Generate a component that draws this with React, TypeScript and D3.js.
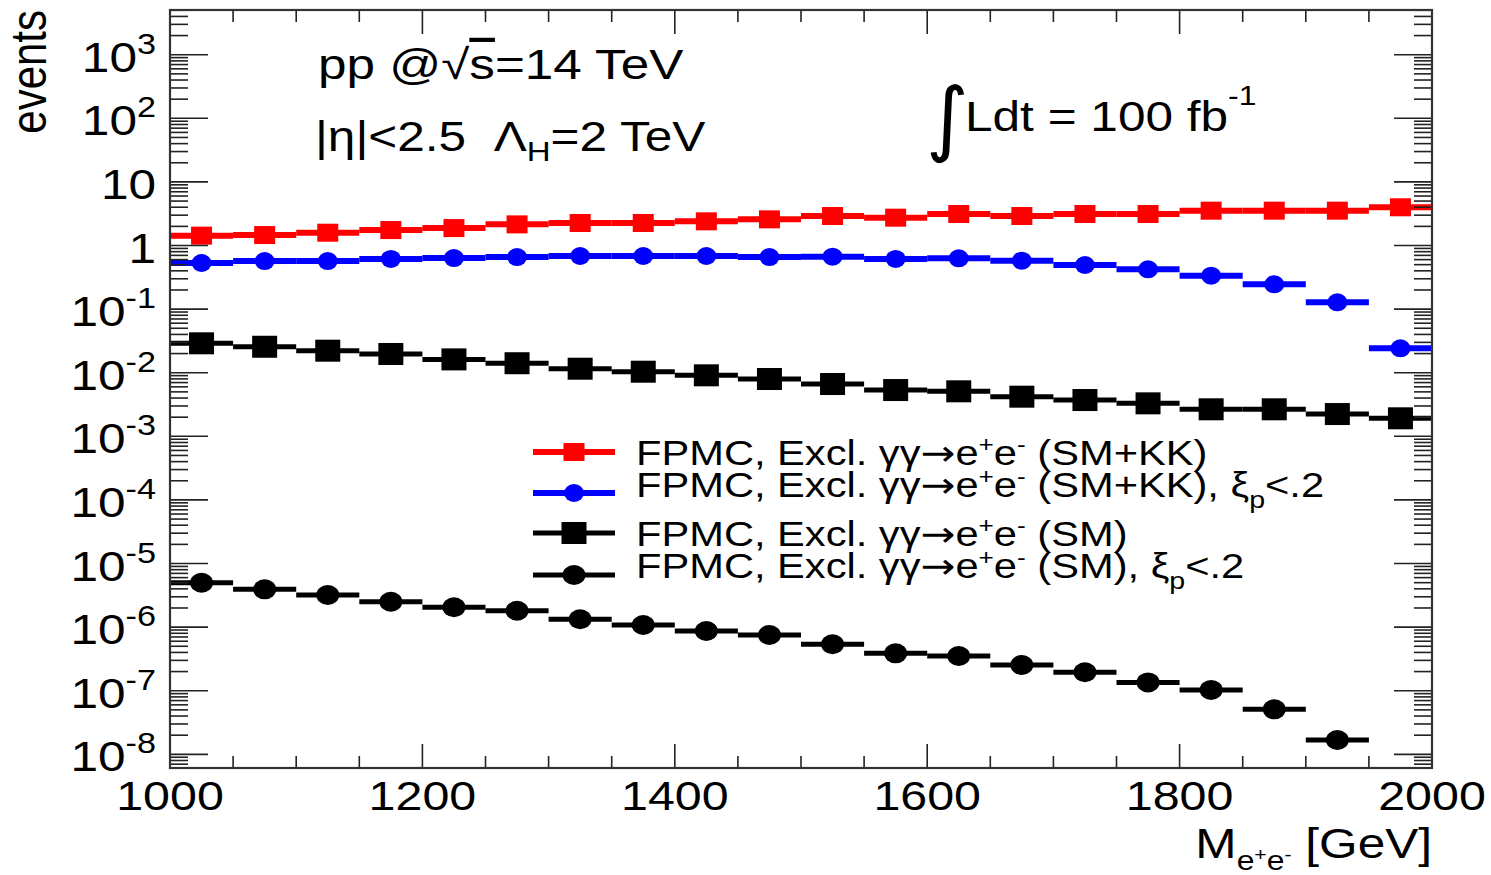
import React from 'react';
import * as d3 from 'd3';

// Bin centres of the invariant-mass histogram (GeV)
const massBins = [1025, 1075, 1125, 1175, 1225, 1275, 1325, 1375, 1425, 1475, 1525, 1575, 1625, 1675, 1725, 1775, 1825, 1875, 1925, 1975];
const binHalfWidth = 25;

// FPMC, Excl. γγ→e+e- (SM+KK)
const smKK = [1.43, 1.46, 1.59, 1.75, 1.88, 2.15, 2.26, 2.26, 2.40, 2.58, 2.91, 2.74, 3.13, 2.91, 3.13, 3.13, 3.53, 3.53, 3.53, 3.99];
// FPMC, Excl. γγ→e+e- (SM+KK), ξp<.2
const smKKXi = [0.531, 0.570, 0.570, 0.614, 0.636, 0.659, 0.684, 0.684, 0.684, 0.659, 0.667, 0.614, 0.629, 0.577, 0.494, 0.422, 0.335, 0.245, 0.128, 0.0242];
// FPMC, Excl. γγ→e+e- (SM)
const sm = [0.0290, 0.0256, 0.0222, 0.0197, 0.0162, 0.0141, 0.01156, 0.01037, 0.00910, 0.00796, 0.00664, 0.00534, 0.00510, 0.00420, 0.00372, 0.00330, 0.00266, 0.00266, 0.00224, 0.00192];
// FPMC, Excl. γγ→e+e- (SM), ξp<.2
const smXi = [4.99e-6, 3.93e-6, 3.20e-6, 2.51e-6, 2.05e-6, 1.81e-6, 1.33e-6, 1.08e-6, 8.69e-7, 7.52e-7, 5.37e-7, 3.87e-7, 3.51e-7, 2.54e-7, 1.95e-7, 1.35e-7, 1.03e-7, 5.10e-8, 1.68e-8, null];

const xTicks = [1000, 1200, 1400, 1600, 1800, 2000];
const xMinorStep = 50;
const yExponents = [-8, -7, -6, -5, -4, -3, -2, -1, 0, 1, 2, 3];

const FONT = '"Liberation Sans", Arial, Helvetica, sans-serif';
const SX = 1.18;

type Series = { values: (number | null)[]; color: string; marker: 'square' | 'circle'; mw: number; mh: number; lw: number };

const series: Series[] = [
  { values: smKK, color: '#ff0000', marker: 'square', mw: 21, mh: 18, lw: 6 },
  { values: smKKXi, color: '#0000ff', marker: 'circle', mw: 20, mh: 18, lw: 6 },
  { values: sm, color: '#000000', marker: 'square', mw: 25, mh: 22, lw: 5 },
  { values: smXi, color: '#000000', marker: 'circle', mw: 23, mh: 20, lw: 5 },
];

function Marker({ cx, cy, s }: { cx: number; cy: number; s: Series }) {
  if (s.marker === 'square') {
    return <rect x={cx - s.mw / 2} y={cy - s.mh / 2} width={s.mw} height={s.mh} fill={s.color} />;
  }
  return <ellipse cx={cx} cy={cy} rx={s.mw / 2} ry={s.mh / 2} fill={s.color} />;
}

function T({ x, y, size, anchor = 'start', children, sx = SX, family = FONT }: any) {
  return (
    <g transform={`translate(${x},${y}) scale(${sx},1)`}>
      <text x={0} y={0} fontSize={size} textAnchor={anchor} fontFamily={family} fill="#000" style={{ whiteSpace: 'pre' }}>
        {children}
      </text>
    </g>
  );
}

export default function App() {
  const W = 1491, H = 875;
  const left = 170, right = 1432, top = 10, bottom = 768;
  const x = d3.scaleLinear().domain([1000, 2000]).range([left, right]);
  const y = d3.scaleLog().domain([Math.pow(10, -8.215), Math.pow(10, 3.703)]).range([bottom, top]);
  const [ymin, ymax] = y.domain();

  const logTicks: { v: number; major: boolean }[] = [];
  for (let k = -9; k <= 3; k++) {
    for (let m = 1; m <= 9; m++) {
      const v = m * Math.pow(10, k);
      if (v >= ymin && v <= ymax) logTicks.push({ v, major: m === 1 });
    }
  }
  const xMinor = d3.range(1000, 2000 + 1, xMinorStep);

  const legendRows = [
    { s: series[0], ly: 452, ty: 465, xi: false, tag: 'SM+KK' },
    { s: series[1], ly: 493, ty: 497, xi: true, tag: 'SM+KK' },
    { s: series[2], ly: 533, ty: 546, xi: false, tag: 'SM' },
    { s: series[3], ly: 575, ty: 578, xi: true, tag: 'SM' },
  ];

  return (
    <svg width={W} height={H} style={{ position: 'absolute', left: 0, top: 0, background: '#fff' }}>
      <defs>
        <clipPath id="plotClip">
          <rect x={left} y={top} width={right - left} height={bottom - top} />
        </clipPath>
      </defs>
      <rect x={0} y={0} width={W} height={H} fill="#fff" />

      {/* data */}
      <g clipPath="url(#plotClip)">
        {series.map((s, si) => (
          <g key={si}>
            {s.values.map((v, i) =>
              v == null ? null : (
                <line key={'l' + i} x1={x(massBins[i] - binHalfWidth)} x2={x(massBins[i] + binHalfWidth)} y1={y(v)} y2={y(v)} stroke={s.color} strokeWidth={s.lw} />
              )
            )}
            {s.values.map((v, i) => (v == null ? null : <Marker key={'m' + i} cx={x(massBins[i])} cy={y(v)} s={s} />))}
          </g>
        ))}
      </g>

      {/* ticks */}
      <g stroke="#222" strokeWidth={1.6}>
        {logTicks.map((t, i) => (
          <g key={i}>
            <line x1={left} x2={left + (t.major ? 38 : 18)} y1={y(t.v)} y2={y(t.v)} />
            <line x1={right} x2={right - (t.major ? 38 : 18)} y1={y(t.v)} y2={y(t.v)} />
          </g>
        ))}
        {xMinor.map((v, i) => {
          const major = xTicks.includes(v);
          const len = major ? 24 : 12;
          return (
            <g key={i}>
              <line x1={x(v)} x2={x(v)} y1={bottom} y2={bottom - len} />
              <line x1={x(v)} x2={x(v)} y1={top} y2={top + len} />
            </g>
          );
        })}
      </g>

      {/* frame */}
      <rect x={left} y={top} width={right - left} height={bottom - top} fill="none" stroke="#333" strokeWidth={2.2} />

      {/* x tick labels */}
      {xTicks.map((v) => (
        <T key={v} x={x(v)} y={810} size={41} anchor="middle">
          {v}
        </T>
      ))}

      {/* y tick labels */}
      {yExponents.map((k) => {
        const ty = y(Math.pow(10, k)) + 17;
        if (k === 0) return <T key={k} x={156} y={ty} size={42} anchor="end">1</T>;
        if (k === 1) return <T key={k} x={156} y={ty} size={42} anchor="end">10</T>;
        return (
          <T key={k} x={156} y={ty} size={42} anchor="end">
            <tspan>10</tspan>
            <tspan dy={-18} fontSize={29}>{k < 0 ? '-' + Math.abs(k) : String(k)}</tspan>
          </T>
        );
      })}

      {/* axis titles */}
      <g transform={`translate(46,10) scale(${SX},1) rotate(-90)`}>
        <text x={0} y={0} fontSize={42} textAnchor="end" fontFamily={FONT}>events</text>
      </g>
      <T x={1432} y={858} size={42} anchor="end">
        <tspan>M</tspan>
        <tspan dy={12} fontSize={27}>e</tspan>
        <tspan dy={-9} fontSize={18}>+</tspan>
        <tspan dy={9} fontSize={27}>e</tspan>
        <tspan dy={-9} fontSize={18}>-</tspan>
        <tspan dy={-3} fontSize={42}>{' [GeV]'}</tspan>
      </T>

      {/* annotations */}
      <T x={318} y={79} size={42} sx={1.22}>
        <tspan>pp @</tspan>
        <tspan>√</tspan>
        <tspan style={{ textDecoration: 'overline' }}>s</tspan>
        <tspan>=14 TeV</tspan>
      </T>
      <T x={315} y={151} size={42}>
        <tspan>{'|η|<2.5\u00A0\u00A0Λ'}</tspan>
        <tspan dy={10} fontSize={28}>H</tspan>
        <tspan dy={-10}>=2 TeV</tspan>
      </T>
      <T x={926} y={146} size={82} sx={1} family={'"DejaVu Sans", sans-serif'}>∫</T>
      <T x={965} y={131} size={42}>
        <tspan>Ldt = 100 fb</tspan>
        <tspan dy={-26} fontSize={27}>-1</tspan>
      </T>

      {/* legend */}
      {legendRows.map((r, i) => (
        <g key={i}>
          <line x1={533} x2={615} y1={r.ly} y2={r.ly} stroke={r.s.color} strokeWidth={r.s.lw} />
          <Marker cx={574} cy={r.ly} s={r.s} />
          <T x={636} y={r.ty} size={35} sx={1.19}>
            <tspan>FPMC, Excl. γγ</tspan>
            <tspan fontFamily={'"DejaVu Sans", sans-serif'}>→</tspan>
            <tspan>e</tspan>
            <tspan dy={-13} fontSize={22}>+</tspan>
            <tspan dy={13}>e</tspan>
            <tspan dy={-13} fontSize={22}>-</tspan>
            <tspan dy={13}>{` (${r.tag})`}</tspan>
            {r.xi ? (
              <>
                <tspan>, ξ</tspan>
                <tspan dy={11} fontSize={24}>p</tspan>
                <tspan dy={-11}>&lt;.2</tspan>
              </>
            ) : null}
          </T>
        </g>
      ))}
    </svg>
  );
}
